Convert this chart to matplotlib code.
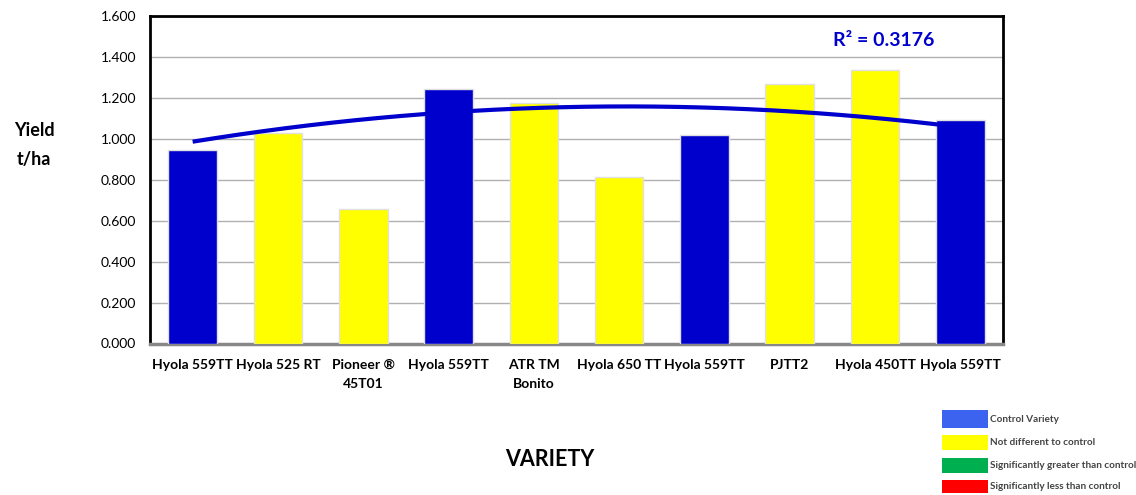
import numpy as np
import matplotlib
matplotlib.use("Agg")
import matplotlib.pyplot as plt
from matplotlib.patches import Rectangle

categories = ["Hyola 559TT", "Hyola 525 RT", "Pioneer \u00ae\n45T01", "Hyola 559TT",
              "ATR TM\nBonito", "Hyola 650 TT", "Hyola 559TT", "PJTT2",
              "Hyola 450TT", "Hyola 559TT"]
yields = [0.945, 1.030, 0.656, 1.245, 1.175, 0.812, 1.017, 1.269, 1.336, 1.092]
groups = ["control", "nd", "nd", "control", "nd", "nd", "control", "nd", "nd", "control"]
y_ticks = [0.0, 0.2, 0.4, 0.6, 0.8, 1.0, 1.2, 1.4, 1.6]
# trendline (category position, value)
trend_x = [1.0, 3.71, 4.98, 6.21, 7.07, 8.16, 9.33, 9.73]
trend_y = [0.986, 1.120, 1.152, 1.157, 1.149, 1.132, 1.092, 1.067]
r2_label = "R\u00b2 = 0.3176"
legend_labels = ["Control Variety", "Not different to control",
                 "Significantly greater than control", "Significantly less than control"]
legend_colors = ["#3b63f0", "#ffff00", "#00b050", "#ff0000"]

bar_colors = {"control": "#0000cc", "nd": "#ffff00"}

plt.rcParams['font.family'] = ['Lato', 'DejaVu Sans']

fig = plt.figure(figsize=(11.36, 4.95), dpi=100)
ax = fig.add_axes([150/1136, 1-343.5/495, (1003-150)/1136, (343.5-16)/495])

x = np.arange(1, len(yields)+1)
ax.bar(x, yields, width=0.57, color=[bar_colors[g] for g in groups],
       edgecolor="#e0e0e0", linewidth=1.0, zorder=3)

coef = np.polyfit(trend_x, trend_y, 2)
xs = np.linspace(1, 10, 200)
ax.plot(xs, np.polyval(coef, xs), color="#0000cc", lw=3, zorder=4, solid_capstyle="butt")

ax.set_xlim(0.5, 10.5)
ax.set_ylim(0, 1.6)
ax.set_yticks(y_ticks)
ax.set_yticklabels([f"{v:.3f}" for v in y_ticks], fontsize=10)
ax.set_xticks(x)
ax.set_xticklabels(categories, fontsize=10, fontweight="bold", linespacing=1.75)
ax.tick_params(axis="both", length=0, pad=11)
ax.tick_params(axis="y", pad=10)
ax.yaxis.grid(True, color="#b0b0b0", lw=1, zorder=0)
ax.set_axisbelow(True)

for side in ["top", "left", "right"]:
    ax.spines[side].set_color("black")
    ax.spines[side].set_linewidth(2)
ax.spines["bottom"].set_color("#888888")
ax.spines["bottom"].set_linewidth(2.5)

ax.text(0.86, 0.925, r2_label, transform=ax.transAxes, ha="center", va="center",
        fontsize=14, fontweight="bold", color="#0000cc")

fig.text(34/1136, 1-145/495, "Yield\nt/ha", ha="center", va="center",
         fontsize=13, fontweight="bold", linespacing=1.9)
fig.text(550/1136, 1-460/495, "VARIETY", ha="center", va="center",
         fontsize=15.5, fontweight="bold")

leg_y = [(410, 428), (435, 450), (458, 473), (480, 493)]
for (y0, y1), col, lab in zip(leg_y, legend_colors, legend_labels):
    fig.patches.append(Rectangle((942/1136, 1-y1/495), 46/1136, (y1-y0)/495,
                                 transform=fig.transFigure, facecolor=col,
                                 edgecolor="none"))
    fig.text(990/1136, 1-(y0+y1)/2/495, lab, ha="left", va="center",
             fontsize=7.2, fontweight="bold", color="#444444")

fig.savefig("out.png", dpi=100)
